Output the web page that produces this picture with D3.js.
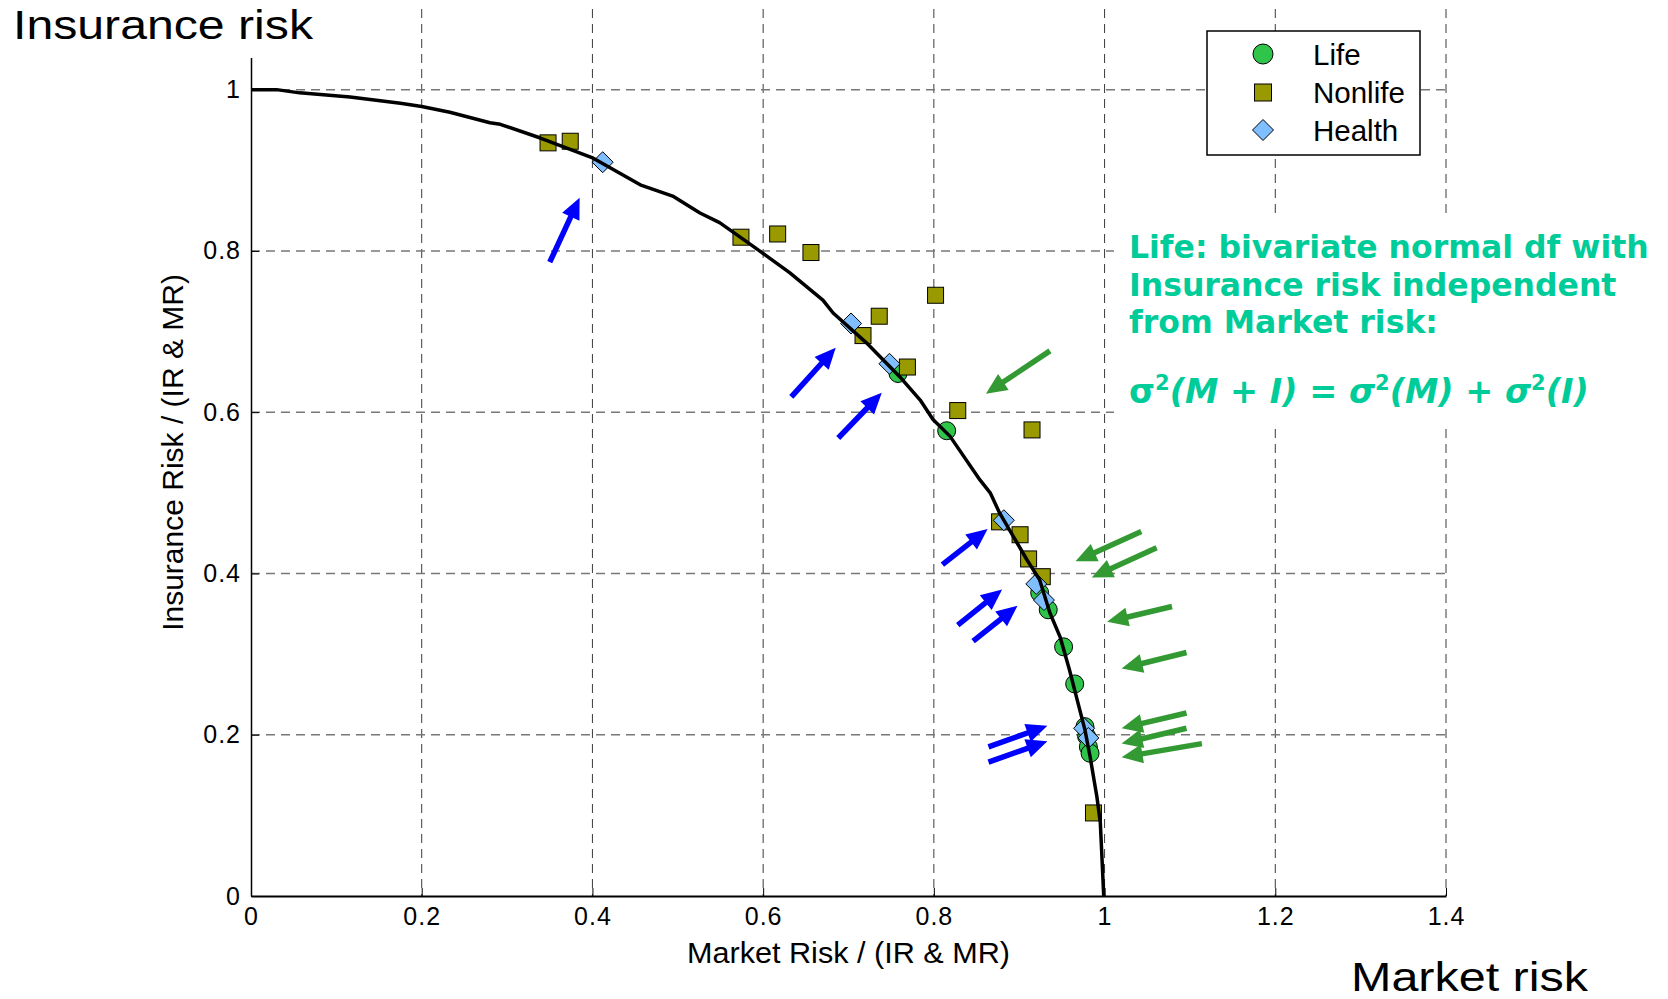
<!DOCTYPE html>
<html>
<head>
<meta charset="utf-8">
<script src="https://cdn.jsdelivr.net/npm/d3@7"></script>
<style>
  html, body { margin: 0; padding: 0; background: #fff; }
  svg { display: block; }
</style>
</head>
<body>
<svg id="chart" width="1668" height="999"></svg>
<script>
// ---- data ----------------------------------------------------------------
// Efficient frontier: market risk share vs insurance risk share
const curveX = [0, 0.03, 0.057, 0.116, 0.175, 0.2, 0.233, 0.28, 0.292, 0.339, 0.401, 0.456, 0.494, 0.526, 0.549, 0.588, 0.631, 0.670, 0.682, 0.721, 0.760, 0.784, 0.799, 0.819, 0.854, 0.866, 0.877, 0.893, 0.909, 0.924, 0.936, 0.948, 0.959, 0.967, 0.977, 0.983, 0.991, 0.995, 0.996, 0.999];
const curveY = [1, 1, 0.996, 0.991, 0.983, 0.979, 0.972, 0.959, 0.957, 0.940, 0.915, 0.882, 0.868, 0.847, 0.835, 0.806, 0.773, 0.739, 0.723, 0.686, 0.644, 0.615, 0.591, 0.570, 0.516, 0.500, 0.475, 0.446, 0.417, 0.392, 0.351, 0.321, 0.280, 0.247, 0.206, 0.173, 0.123, 0.091, 0.069, 0];

const lifeX = [0.758, 0.815, 0.924, 0.934, 0.952, 0.965, 0.977, 0.979, 0.981, 0.983];
const lifeY = [0.648, 0.577, 0.376, 0.355, 0.309, 0.263, 0.210, 0.198, 0.185, 0.177];

const nonlifeX = [0.348, 0.374, 0.574, 0.617, 0.656, 0.802, 0.736, 0.717, 0.769, 0.828, 0.915, 0.877, 0.901, 0.911, 0.927, 0.987];
const nonlifeY = [0.934, 0.936, 0.817, 0.821, 0.798, 0.745, 0.719, 0.695, 0.656, 0.602, 0.578, 0.464, 0.448, 0.418, 0.396, 0.103];

const healthX = [0.412, 0.703, 0.748, 0.882, 0.920, 0.929, 0.976, 0.981];
const healthY = [0.910, 0.710, 0.660, 0.466, 0.387, 0.367, 0.208, 0.196];

// Annotation arrows (tail -> tip), in axis units
const blueTail = [[0.350,0.786],[0.633,0.619],[0.688,0.568],[0.810,0.411],[0.828,0.336],[0.846,0.316],[0.864,0.185],[0.864,0.166]];
const blueTip  = [[0.385,0.866],[0.685,0.680],[0.739,0.624],[0.863,0.455],[0.880,0.380],[0.898,0.360],[0.933,0.211],[0.933,0.192]];
const greenTail = [[0.936,0.676],[1.043,0.452],[1.061,0.432],[1.079,0.359],[1.096,0.302],[1.096,0.227],[1.096,0.208],[1.114,0.189]];
const greenTip  = [[0.861,0.623],[0.966,0.415],[0.985,0.395],[1.003,0.340],[1.020,0.282],[1.020,0.208],[1.020,0.189],[1.020,0.172]];

const xTicks = [0, 0.2, 0.4, 0.6, 0.8, 1, 1.2, 1.4];
const yTicks = [0, 0.2, 0.4, 0.6, 0.8, 1];
const legendLabels = ["Life", "Nonlife", "Health"];
const noteLines = ["Life: bivariate normal df with", "Insurance risk independent", "from Market risk:"];

// ---- layout ----------------------------------------------------------------
const svg = d3.select("#chart");
const x = d3.scaleLinear().domain([0, 1.4]).range([251, 1446]);
const y = d3.scaleLinear().domain([0, 1.1]).range([896, 9]);

const colLife = "#2EC54A", colNonlife = "#999900", colHealth = "#7FBFFF";
const tickFont = "'Liberation Sans', Arial, sans-serif";

// grid
const grid = svg.append("g");
grid.selectAll("line.v").data(xTicks.filter(d => d > 0)).join("line")
  .attr("x1", d => x(d)).attr("x2", d => x(d))
  .attr("y1", y(1.1)).attr("y2", y(0))
  .attr("stroke", "#3a3a3a").attr("stroke-width", 1).attr("stroke-dasharray", "9,6");
grid.selectAll("line.h").data(yTicks.filter(d => d > 0)).join("line")
  .attr("x1", x(0)).attr("x2", x(1.4))
  .attr("y1", d => y(d)).attr("y2", d => y(d))
  .attr("stroke", "#777").attr("stroke-width", 1.5).attr("stroke-dasharray", "9,6");

// axes
const xAxis = d3.axisBottom(x).tickValues(xTicks).tickSizeInner(-8).tickSizeOuter(0)
  .tickPadding(11).tickFormat(d3.format("~g"));
const gx = svg.append("g").attr("transform", `translate(0,${y(0)})`).call(xAxis);
gx.select(".domain").attr("stroke", "#000").attr("stroke-width", 2);
gx.selectAll(".tick text").attr("font-family", tickFont).attr("font-size", 25)
  .attr("letter-spacing", 1).attr("fill", "#000");

const yAxis = d3.axisLeft(y).tickValues(yTicks).tickSizeInner(-8).tickSizeOuter(0)
  .tickPadding(10).tickFormat(d3.format("~g"));
const gy = svg.append("g").attr("transform", `translate(${x(0)},0)`).call(yAxis);
gy.select(".domain").attr("stroke", "#000").attr("stroke-width", 1.5);
gy.selectAll(".tick text").attr("font-family", tickFont).attr("font-size", 25)
  .attr("letter-spacing", 1).attr("fill", "#000");

// axis titles
svg.append("text").attr("x", (x(0) + x(1.4)) / 2).attr("y", 963)
  .attr("text-anchor", "middle").attr("font-family", tickFont).attr("font-size", 29)
  .attr("textLength", 323).attr("lengthAdjust", "spacingAndGlyphs")
  .text("Market Risk / (IR & MR)");
svg.append("text").attr("transform", `translate(183,${(y(0) + y(1.1)) / 2}) rotate(-90)`)
  .attr("text-anchor", "middle").attr("font-family", tickFont).attr("font-size", 30)
  .text("Insurance Risk / (IR & MR)");

// markers
const diamond = s => `M0,${-s}L${s},0L0,${s}L${-s},0Z`;
const plot = svg.append("g");
plot.selectAll("circle.life").data(d3.range(lifeX.length)).join("circle")
  .attr("cx", i => x(lifeX[i])).attr("cy", i => y(lifeY[i])).attr("r", 9)
  .attr("fill", colLife).attr("stroke", "#000").attr("stroke-width", 1);
plot.selectAll("rect.nonlife").data(d3.range(nonlifeX.length)).join("rect")
  .attr("x", i => x(nonlifeX[i]) - 8).attr("y", i => y(nonlifeY[i]) - 8)
  .attr("width", 16).attr("height", 16)
  .attr("fill", colNonlife).attr("stroke", "#000").attr("stroke-width", 1);
plot.selectAll("path.health").data(d3.range(healthX.length)).join("path")
  .attr("transform", i => `translate(${x(healthX[i])},${y(healthY[i])})`)
  .attr("d", diamond(10.5))
  .attr("fill", colHealth).attr("stroke", "#000").attr("stroke-width", 1);

// frontier curve
svg.append("path").datum(d3.range(curveX.length))
  .attr("d", d3.line().x(i => x(curveX[i])).y(i => y(curveY[i])))
  .attr("fill", "none").attr("stroke", "#000").attr("stroke-width", 3.5).attr("stroke-linejoin", "round");

// arrows
function drawArrows(tails, tips, color) {
  const g = svg.append("g");
  tails.forEach((t, i) => {
    const x0 = x(t[0]), y0 = y(t[1]), x1 = x(tips[i][0]), y1 = y(tips[i][1]);
    const dx = x1 - x0, dy = y1 - y0, len = Math.hypot(dx, dy);
    const ux = dx / len, uy = dy / len, headLen = 21, headW = 9.5;
    const bx = x1 - ux * headLen, by = y1 - uy * headLen;
    g.append("line").attr("x1", x0).attr("y1", y0).attr("x2", bx + ux * 2).attr("y2", by + uy * 2)
      .attr("stroke", color).attr("stroke-width", 5.5);
    g.append("path")
      .attr("d", `M${x1},${y1}L${bx - uy * headW},${by + ux * headW}L${bx + uy * headW},${by - ux * headW}Z`)
      .attr("fill", color);
  });
}
drawArrows(blueTail, blueTip, "#0000FF");
drawArrows(greenTail, greenTip, "#339933");

// legend
const lg = svg.append("g");
lg.append("rect").attr("x", 1207).attr("y", 31).attr("width", 213).attr("height", 124)
  .attr("fill", "#fff").attr("stroke", "#000").attr("stroke-width", 1.5);
const rowY = [54, 92.5, 130];
lg.append("circle").attr("cx", 1263).attr("cy", rowY[0]).attr("r", 10)
  .attr("fill", colLife).attr("stroke", "#000").attr("stroke-width", 1);
lg.append("rect").attr("x", 1263 - 8.5).attr("y", rowY[1] - 8.5).attr("width", 17).attr("height", 17)
  .attr("fill", colNonlife).attr("stroke", "#000").attr("stroke-width", 1);
lg.append("path").attr("transform", `translate(1263,${rowY[2]})`).attr("d", diamond(10.5))
  .attr("fill", colHealth).attr("stroke", "#000").attr("stroke-width", 1);
lg.selectAll("text").data(legendLabels).join("text")
  .attr("x", 1313).attr("y", (d, i) => rowY[i] + 10.5)
  .attr("font-family", tickFont).attr("font-size", 29.5).text(d => d);

// note in green, on its own white text box
svg.append("rect").attr("x", 1114).attr("y", 214).attr("width", 554).attr("height", 210).attr("fill", "#fff");
const note = svg.append("g").attr("font-family", "'DejaVu Sans', Verdana, sans-serif")
  .attr("font-weight", "bold").attr("font-size", 31.5).attr("fill", "#00CC99");
note.selectAll("text.line").data(noteLines).join("text")
  .attr("x", 1129).attr("y", (d, i) => 258 + i * 37.5).text(d => d);
const eq = note.append("text").attr("x", 1129).attr("y", 403).attr("font-size", 33.5);
eq.append("tspan").text("σ");
eq.append("tspan").attr("font-size", 21).attr("dy", -13).text("2");
eq.append("tspan").attr("dy", 13).attr("font-style", "italic").text("(M + I) = σ");
eq.append("tspan").attr("font-size", 21).attr("dy", -13).text("2");
eq.append("tspan").attr("dy", 13).attr("font-style", "italic").text("(M) + σ");
eq.append("tspan").attr("font-size", 21).attr("dy", -13).text("2");
eq.append("tspan").attr("dy", 13).attr("font-style", "italic").text("(I)");

// slide captions
svg.append("rect").attr("x", 0).attr("y", 0).attr("width", 330).attr("height", 58).attr("fill", "#fff");
svg.append("text").attr("x", 13).attr("y", 39).attr("font-family", tickFont).attr("font-size", 40)
  .attr("textLength", 300).attr("lengthAdjust", "spacingAndGlyphs").text("Insurance risk");
svg.append("text").attr("x", 1351).attr("y", 991).attr("font-family", tickFont).attr("font-size", 40)
  .attr("textLength", 237).attr("lengthAdjust", "spacingAndGlyphs").text("Market risk");
</script>
</body>
</html>
